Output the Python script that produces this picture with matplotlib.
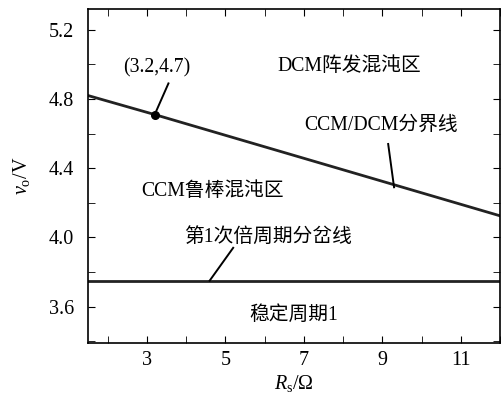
import matplotlib.pyplot as plt
from matplotlib.ticker import MultipleLocator

plt.rcParams['font.family'] = ['Liberation Serif', 'Noto Sans CJK SC']
plt.rcParams['mathtext.fontset'] = 'custom'
plt.rcParams['mathtext.rm'] = 'Liberation Serif'
plt.rcParams['mathtext.it'] = 'Liberation Serif:italic'

# CCM/DCM boundary and first period-doubling bifurcation line
boundary_r = [1.5, 3.2, 12.0]
boundary_v = [4.82, 4.71, 4.125]
bif_r = [1.5, 12.0]
bif_v = [3.75, 3.75]
mark_r, mark_v = 3.2, 4.71

fig = plt.figure(figsize=(5.02, 3.94), dpi=100)
ax = fig.add_axes([88 / 502, 1 - 343 / 394, 412 / 502, 334 / 394])

ax.plot(boundary_r, boundary_v, color='#222222', lw=2.0)
ax.plot(bif_r, bif_v, color='#222222', lw=2.0)
ax.plot(mark_r, mark_v, 'o', color='black', ms=5.5)

ax.set_xlim(1.5, 12)
ax.set_ylim(3.39, 5.32)
ax.set_xticks([3, 5, 7, 9, 11])
ax.set_yticks([3.6, 4.0, 4.4, 4.8, 5.2])
ax.set_yticklabels(['3.6', '4.0', '4.4', '4.8', '5.2'])
ax.xaxis.set_minor_locator(MultipleLocator(1))
ax.yaxis.set_minor_locator(MultipleLocator(0.2))
ax.tick_params(which='both', direction='in', top=True, right=True, labelsize=14.5)
ax.tick_params(axis='x', pad=6)
ax.tick_params(axis='y', pad=10)
ax.tick_params(which='major', length=5)
ax.tick_params(which='minor', length=5)
for s in ax.spines.values():
    s.set_linewidth(1.2)

ax.set_xlabel(r'$R_\mathrm{s}$/Ω', fontsize=14.5, labelpad=2)
ax.set_ylabel(r'$v_\mathrm{o}$/V', fontsize=14.5, labelpad=12)

fs = 14.2
ax.text(3.25, 4.98, '(3.2,4.7)', fontsize=fs, ha='center', va='center')
ax.plot([3.2, 3.55], [4.71, 4.89], color='black', lw=1.4)
ax.text(8.17, 4.99, 'DCM阵发混沌区', fontsize=fs, ha='center', va='center')
ax.text(8.96, 4.65, 'CCM/DCM分界线', fontsize=fs, ha='center', va='center')
ax.plot([9.3, 9.15], [4.29, 4.54], color='black', lw=1.4)
ax.text(4.68, 4.265, 'CCM鲁棒混沌区', fontsize=fs, ha='center', va='center')
ax.text(6.08, 4.0, '第1次倍周期分岔线', fontsize=fs, ha='center', va='center')
ax.plot([4.6, 5.2], [3.75, 3.94], color='black', lw=1.4)
ax.text(6.74, 3.55, '稳定周期1', fontsize=fs, ha='center', va='center')

fig.savefig('out.png', dpi=100)
